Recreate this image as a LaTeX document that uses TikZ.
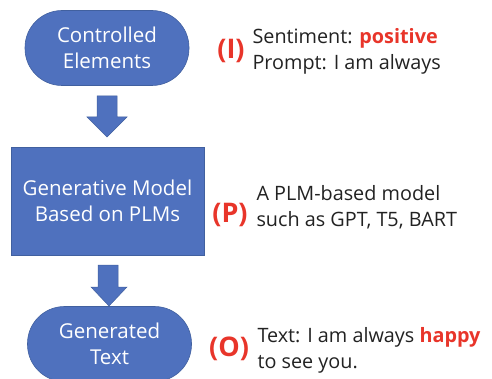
\documentclass[tikz,border=0pt]{standalone}
\usepackage{fontspec}
\setmainfont{Open Sans}
\usetikzlibrary{shapes.arrows}
\definecolor{boxblue}{HTML}{4F71BE}
\definecolor{edgeblue}{HTML}{41609F}
\definecolor{tagred}{HTML}{E8352A}
\definecolor{ink}{HTML}{222222}
\begin{document}
\begin{tikzpicture}[x=1pt,y=-1pt,
  stadium/.style={fill=boxblue,draw=edgeblue,line width=0.6pt,rounded corners=37pt,
    minimum width=164pt,minimum height=75pt,text=white,align=center,
    font=\fontsize{20.5}{26}\selectfont},
  modelbox/.style={fill=boxblue,draw=edgeblue,line width=0.6pt,
    minimum width=193pt,minimum height=108pt,text=white,align=center,
    font=\fontsize{20.5}{26}\selectfont},
  tag/.style={text=tagred,font=\fontsize{27}{30}\bfseries\selectfont},
  note/.style={text=ink,align=left,anchor=west,font=\fontsize{19.8}{26.5}\selectfont},
  downarrow/.style={fill=boxblue,draw=edgeblue,line width=0.5pt}]
\useasboundingbox (0,0) rectangle (492,379);
% flow boxes
\node[stadium] (ctrl) at (107,48) {Controlled\\Elements};
\node[modelbox] (model) at (107.5,201) {Generative Model\\Based on PLMs};
\node[stadium] (gen) at (109.5,344) {Generated\\Text};
% block arrows between the boxes
\draw[downarrow] (97,96) -- (117,96) -- (117,117) -- (127,117) -- (107,137)
  -- (87,117) -- (97,117) -- cycle;
\draw[downarrow] (98,265) -- (118,265) -- (118,287) -- (127,287) -- (109,306)
  -- (91,287) -- (98,287) -- cycle;
% stage tags
\node[tag] (ti) at (231,51) {(I)};
\node[tag] (tp) at (230,214.5) {(P)};
\node[tag] (to) at (229,349) {(O)};
% descriptions
\node[note] (ni) at (249,51.5) {Sentiment: \textcolor{tagred}{\bfseries positive}\\Prompt: I am always};
\node[note] (np) at (253,207.5) {A PLM-based model\\such as GPT, T5, BART};
\node[note] (no) at (254,350.5) {Text: I am always \textcolor{tagred}{\bfseries happy}\\to see you.};
\end{tikzpicture}
\end{document}
